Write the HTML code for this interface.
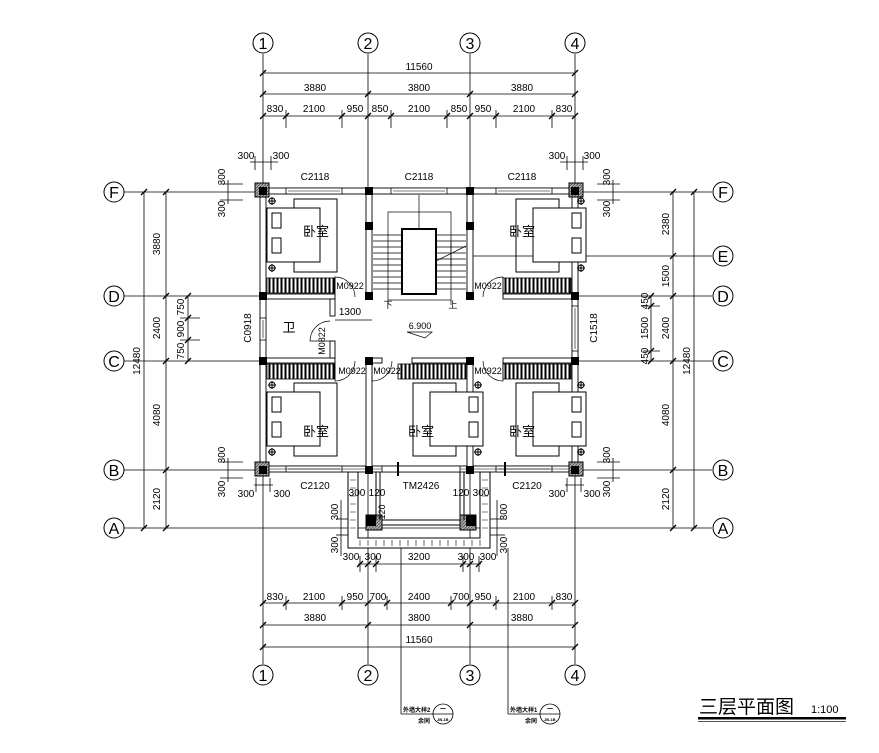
<!DOCTYPE html>
<html><head><meta charset="utf-8"><style>
html,body{margin:0;padding:0;background:#fff}
svg{display:block}
text{font-family:"Liberation Sans","Noto Sans CJK SC",sans-serif;fill:#000}
</style></head><body>
<svg width="879" height="753" viewBox="0 0 879 753" xmlns="http://www.w3.org/2000/svg">
<defs>
<pattern id="hatch" width="4" height="10" patternUnits="userSpaceOnUse"><rect width="4" height="10" fill="#fff"/><rect x="0.5" width="2" height="10" fill="#000"/></pattern>
<pattern id="diag" width="3" height="3" patternUnits="userSpaceOnUse"><rect width="3" height="3" fill="#aaa"/><path d="M0,3L3,0" stroke="#444" stroke-width="0.7"/></pattern>
<g id="tk"><line x1="-3" y1="3" x2="3" y2="-3" stroke="#000" stroke-width="1.3"/></g>
<g id="bed">
<rect x="0" y="0" width="43" height="73" fill="none" stroke="#000"/>
<rect x="-27" y="9" width="53" height="54" fill="#fff" stroke="#000"/>
<rect x="-22" y="14" width="9" height="15" fill="none" stroke="#000"/>
<rect x="-22" y="39" width="9" height="15" fill="none" stroke="#000"/>
<circle cx="-22" cy="2" r="3" fill="none" stroke="#000"/><line x1="-26" y1="2" x2="-18" y2="2" stroke="#000"/><line x1="-22" y1="-2" x2="-22" y2="6" stroke="#000"/>
<circle cx="-22" cy="69" r="3" fill="none" stroke="#000"/><line x1="-26" y1="69" x2="-18" y2="69" stroke="#000"/><line x1="-22" y1="65" x2="-22" y2="73" stroke="#000"/>
</g>
<g id="bedR">
<rect x="0" y="0" width="43" height="73" fill="none" stroke="#000"/>
<rect x="17" y="9" width="53" height="54" fill="#fff" stroke="#000"/>
<rect x="56" y="14" width="9" height="15" fill="none" stroke="#000"/>
<rect x="56" y="39" width="9" height="15" fill="none" stroke="#000"/>
<circle cx="65" cy="2" r="3" fill="none" stroke="#000"/><line x1="61" y1="2" x2="69" y2="2" stroke="#000"/><line x1="65" y1="-2" x2="65" y2="6" stroke="#000"/>
<circle cx="65" cy="69" r="3" fill="none" stroke="#000"/><line x1="61" y1="69" x2="69" y2="69" stroke="#000"/><line x1="65" y1="65" x2="65" y2="73" stroke="#000"/>
</g>
</defs>

<!-- axis lines -->
<g stroke="#000" stroke-width="0.8">
<line x1="263" y1="54" x2="263" y2="664"/><line x1="368" y1="54" x2="368" y2="664"/>
<line x1="470" y1="54" x2="470" y2="664"/><line x1="575" y1="54" x2="575" y2="664"/>
<line x1="124" y1="192" x2="712" y2="192"/><line x1="124" y1="296" x2="712" y2="296"/>
<line x1="124" y1="361" x2="712" y2="361"/><line x1="124" y1="470" x2="712" y2="470"/>
<line x1="124" y1="528" x2="712" y2="528"/><line x1="578" y1="256" x2="712" y2="256"/>
<line x1="401" y1="548" x2="401" y2="714"/><line x1="508" y1="548" x2="508" y2="714"/>
</g>
<!-- axis circles -->
<g fill="#fff" stroke="#000" stroke-width="1">
<circle cx="263" cy="43" r="10"/><circle cx="368" cy="43" r="10"/><circle cx="470" cy="43" r="10"/><circle cx="575" cy="43" r="10"/>
<circle cx="263" cy="675" r="10"/><circle cx="368" cy="675" r="10"/><circle cx="470" cy="675" r="10"/><circle cx="575" cy="675" r="10"/>
<circle cx="114" cy="192" r="10"/><circle cx="114" cy="296" r="10"/><circle cx="114" cy="361" r="10"/><circle cx="114" cy="470" r="10"/><circle cx="114" cy="528" r="10"/>
<circle cx="723" cy="192" r="10"/><circle cx="723" cy="256" r="10"/><circle cx="723" cy="296" r="10"/><circle cx="723" cy="361" r="10"/><circle cx="723" cy="470" r="10"/><circle cx="723" cy="528" r="10"/>
</g>
<g font-size="16" text-anchor="middle" style="font-family:'Liberation Serif',serif">
<text x="263" y="49">1</text><text x="368" y="49">2</text><text x="470" y="49">3</text><text x="575" y="49">4</text>
<text x="263" y="681">1</text><text x="368" y="681">2</text><text x="470" y="681">3</text><text x="575" y="681">4</text>
<text x="114" y="198">F</text><text x="114" y="302">D</text><text x="114" y="367">C</text><text x="114" y="476">B</text><text x="114" y="534">A</text>
<text x="723" y="198">F</text><text x="723" y="262">E</text><text x="723" y="302">D</text><text x="723" y="367">C</text><text x="723" y="476">B</text><text x="723" y="534">A</text>
</g>

<!-- dims lines -->
<g stroke="#000" stroke-width="0.8">
<line x1="263" y1="73" x2="575" y2="73"/><line x1="263" y1="94" x2="575" y2="94"/><line x1="263" y1="116" x2="575" y2="116"/>
<line x1="250" y1="162" x2="278" y2="162"/><line x1="560" y1="162" x2="588" y2="162"/>
<line x1="286" y1="110" x2="286" y2="128"/><line x1="342" y1="110" x2="342" y2="128"/><line x1="391" y1="110" x2="391" y2="128"/><line x1="447" y1="110" x2="447" y2="128"/><line x1="496" y1="110" x2="496" y2="128"/><line x1="552" y1="110" x2="552" y2="128"/>
<line x1="255" y1="156" x2="255" y2="170"/><line x1="271" y1="156" x2="271" y2="170"/><line x1="567" y1="156" x2="567" y2="170"/><line x1="583" y1="156" x2="583" y2="170"/>
<line x1="263" y1="603" x2="575" y2="603"/><line x1="263" y1="625" x2="575" y2="625"/><line x1="263" y1="647" x2="575" y2="647"/>
<line x1="358" y1="564" x2="481" y2="564"/>
<line x1="286" y1="596" x2="286" y2="610"/><line x1="342" y1="596" x2="342" y2="610"/><line x1="387" y1="596" x2="387" y2="610"/><line x1="451" y1="596" x2="451" y2="610"/><line x1="496" y1="596" x2="496" y2="610"/><line x1="552" y1="596" x2="552" y2="610"/>
<line x1="360" y1="556" x2="360" y2="572"/><line x1="376" y1="556" x2="376" y2="572"/><line x1="463" y1="556" x2="463" y2="572"/><line x1="479" y1="556" x2="479" y2="572"/>
<line x1="144" y1="192" x2="144" y2="528"/><line x1="166" y1="192" x2="166" y2="528"/><line x1="188" y1="296" x2="188" y2="361"/>
<line x1="180" y1="318" x2="200" y2="318"/><line x1="180" y1="340" x2="200" y2="340"/>
<line x1="228" y1="180" x2="228" y2="204"/><line x1="220" y1="184" x2="243" y2="184"/><line x1="220" y1="200" x2="243" y2="200"/>
<line x1="228" y1="458" x2="228" y2="482"/><line x1="220" y1="462" x2="243" y2="462"/><line x1="220" y1="478" x2="243" y2="478"/>
<line x1="254" y1="485" x2="273" y2="485"/><line x1="256" y1="478" x2="256" y2="492"/><line x1="270" y1="478" x2="270" y2="492"/>
<line x1="565" y1="485" x2="584" y2="485"/><line x1="567" y1="478" x2="567" y2="492"/><line x1="581" y1="478" x2="581" y2="492"/>
<line x1="673" y1="192" x2="673" y2="528"/><line x1="694" y1="192" x2="694" y2="528"/><line x1="651" y1="296" x2="651" y2="361"/>
<line x1="643" y1="306" x2="660" y2="306"/><line x1="643" y1="351" x2="660" y2="351"/>
<line x1="613" y1="180" x2="613" y2="204"/><line x1="597" y1="184" x2="620" y2="184"/><line x1="597" y1="200" x2="620" y2="200"/>
<line x1="613" y1="458" x2="613" y2="482"/><line x1="597" y1="462" x2="620" y2="462"/><line x1="597" y1="478" x2="620" y2="478"/>
<line x1="341" y1="500" x2="341" y2="556"/><line x1="336" y1="519" x2="350" y2="519"/><line x1="336" y1="535" x2="350" y2="535"/>
<line x1="497" y1="500" x2="497" y2="556"/><line x1="490" y1="519" x2="505" y2="519"/><line x1="490" y1="535" x2="505" y2="535"/>
</g>
<g>
<use href="#tk" x="263" y="73"/><use href="#tk" x="575" y="73"/><use href="#tk" x="263" y="94"/><use href="#tk" x="368" y="94"/><use href="#tk" x="470" y="94"/><use href="#tk" x="575" y="94"/>
<use href="#tk" x="263" y="116"/><use href="#tk" x="286" y="116"/><use href="#tk" x="342" y="116"/><use href="#tk" x="368" y="116"/><use href="#tk" x="391" y="116"/><use href="#tk" x="447" y="116"/><use href="#tk" x="470" y="116"/><use href="#tk" x="496" y="116"/><use href="#tk" x="552" y="116"/><use href="#tk" x="575" y="116"/>
<use href="#tk" x="263" y="603"/><use href="#tk" x="286" y="603"/><use href="#tk" x="342" y="603"/><use href="#tk" x="368" y="603"/><use href="#tk" x="387" y="603"/><use href="#tk" x="451" y="603"/><use href="#tk" x="470" y="603"/><use href="#tk" x="496" y="603"/><use href="#tk" x="552" y="603"/><use href="#tk" x="575" y="603"/>
<use href="#tk" x="263" y="625"/><use href="#tk" x="368" y="625"/><use href="#tk" x="470" y="625"/><use href="#tk" x="575" y="625"/><use href="#tk" x="263" y="647"/><use href="#tk" x="575" y="647"/>
<use href="#tk" x="144" y="192"/><use href="#tk" x="144" y="528"/><use href="#tk" x="166" y="192"/><use href="#tk" x="166" y="296"/><use href="#tk" x="166" y="361"/><use href="#tk" x="166" y="470"/><use href="#tk" x="166" y="528"/>
<use href="#tk" x="694" y="192"/><use href="#tk" x="694" y="528"/><use href="#tk" x="673" y="192"/><use href="#tk" x="673" y="256"/><use href="#tk" x="673" y="296"/><use href="#tk" x="673" y="361"/><use href="#tk" x="673" y="470"/><use href="#tk" x="673" y="528"/>
<use href="#tk" x="188" y="296"/><use href="#tk" x="188" y="318"/><use href="#tk" x="188" y="340"/><use href="#tk" x="188" y="361"/>
<use href="#tk" x="651" y="296"/><use href="#tk" x="651" y="306"/><use href="#tk" x="651" y="351"/><use href="#tk" x="651" y="361"/>
<use href="#tk" x="360" y="564"/><use href="#tk" x="368" y="564"/><use href="#tk" x="376" y="564"/><use href="#tk" x="463" y="564"/><use href="#tk" x="470" y="564"/><use href="#tk" x="479" y="564"/>
</g>

<!-- balcony -->
<path d="M348,472 L348,548 L490,548 L490,472 L480,472 L480,538 L358,538 L358,472 Z" fill="#fff" stroke="#000"/>
<g stroke="#000" stroke-width="0.6" fill="none">
<path d="M350,480 h6 M350,488 h6 M350,496 h6 M350,504 h6 M350,512 h6 M350,520 h6 M350,528 h6 M482,480 h6 M482,488 h6 M482,496 h6 M482,504 h6 M482,512 h6 M482,520 h6 M482,528 h6"/>
<path d="M360,540 v6 M368,540 v6 M376,540 v6 M384,540 v6 M392,540 v6 M400,540 v6 M408,540 v6 M416,540 v6 M424,540 v6 M432,540 v6 M440,540 v6 M448,540 v6 M456,540 v6 M464,540 v6 M472,540 v6 M480,540 v6"/>
</g>
<rect x="366" y="515" width="16" height="15" fill="url(#diag)" stroke="#000"/><rect x="366" y="515" width="10" height="11" fill="#000"/>
<rect x="460" y="515" width="16" height="15" fill="url(#diag)" stroke="#000"/><rect x="466" y="515" width="10" height="11" fill="#000"/>
<line x1="376" y1="472" x2="376" y2="520" stroke="#000"/><line x1="380" y1="472" x2="380" y2="520" stroke="#000"/>
<line x1="460" y1="472" x2="460" y2="520" stroke="#000"/><line x1="464" y1="472" x2="464" y2="520" stroke="#000"/>
<line x1="382" y1="520" x2="460" y2="520" stroke="#000"/><line x1="382" y1="525" x2="460" y2="525" stroke="#000"/>

<!-- walls -->
<g fill="#fff" stroke="#000" stroke-width="0.9">
<rect x="260" y="188" width="318" height="284"/>
<rect x="266" y="194" width="306" height="272"/>
</g>
<rect x="267" y="195" width="304" height="270" fill="#fff"/>
<g fill="#fff" stroke="#000" stroke-width="0.9">
<rect x="366" y="191" width="6" height="106"/><rect x="467" y="191" width="6" height="106"/>
<rect x="366" y="358" width="6" height="112"/><rect x="467" y="358" width="6" height="112"/>
<rect x="263" y="294" width="72" height="5"/><rect x="503" y="294" width="72" height="5"/>
<rect x="263" y="358" width="72" height="5"/><rect x="372" y="358" width="10" height="5"/><rect x="412" y="358" width="55" height="5"/><rect x="503" y="358" width="72" height="5"/>
<rect x="330" y="299" width="5" height="17"/><rect x="330" y="341" width="5" height="17"/>
</g>
<!-- windows -->
<g fill="#fff" stroke="#000" stroke-width="0.8">
<rect x="286" y="188" width="56" height="6"/><rect x="391" y="188" width="56" height="6"/><rect x="496" y="188" width="56" height="6"/>
<rect x="286" y="466" width="56" height="6"/><rect x="496" y="466" width="56" height="6"/>
<rect x="260" y="318" width="6" height="22"/><rect x="572" y="306" width="6" height="45"/>
</g>
<g stroke="#000" stroke-width="0.6">
<line x1="288" y1="191" x2="340" y2="191"/><line x1="393" y1="191" x2="445" y2="191"/><line x1="498" y1="191" x2="550" y2="191"/>
<line x1="288" y1="469" x2="340" y2="469"/><line x1="498" y1="469" x2="550" y2="469"/>
<line x1="263" y1="320" x2="263" y2="338"/><line x1="575" y1="308" x2="575" y2="349"/>
<line x1="260" y1="469" x2="578" y2="469"/>
</g>
<rect x="382" y="466" width="78" height="6" fill="#fff" stroke="#000" stroke-width="0.8"/>
<line x1="398" y1="462" x2="398" y2="476" stroke="#000" stroke-width="2"/><line x1="505" y1="462" x2="505" y2="476" stroke="#000" stroke-width="2"/>
<!-- columns -->
<g fill="#000">
<rect x="365" y="187" width="8" height="8"/><rect x="466" y="187" width="8" height="8"/>
<rect x="259" y="292" width="8" height="8"/><rect x="365" y="292" width="8" height="8"/><rect x="466" y="292" width="8" height="8"/><rect x="571" y="292" width="8" height="8"/>
<rect x="259" y="357" width="8" height="8"/><rect x="365" y="357" width="8" height="8"/><rect x="466" y="357" width="8" height="8"/><rect x="571" y="357" width="8" height="8"/>
<rect x="365" y="466" width="8" height="8"/><rect x="466" y="466" width="8" height="8"/>
<rect x="365" y="222" width="8" height="8"/><rect x="466" y="222" width="8" height="8"/>
</g>
<g>
<rect x="255" y="183" width="14" height="14" fill="url(#diag)" stroke="#000"/><rect x="259" y="187" width="8" height="8" fill="#000"/>
<rect x="569" y="183" width="14" height="14" fill="url(#diag)" stroke="#000"/><rect x="571" y="187" width="8" height="8" fill="#000"/>
<rect x="255" y="462" width="14" height="14" fill="url(#diag)" stroke="#000"/><rect x="259" y="466" width="8" height="8" fill="#000"/>
<rect x="569" y="462" width="14" height="14" fill="url(#diag)" stroke="#000"/><rect x="571" y="466" width="8" height="8" fill="#000"/>
</g>

<!-- stair -->
<g stroke="#000" stroke-width="0.7" fill="none">
<rect x="388" y="212" width="63" height="88"/>
<line x1="419" y1="195" x2="419" y2="229"/>
<path d="M373,235h29 M373,241h29 M373,247h29 M373,253h29 M373,259h29 M373,265h29 M373,271h29 M373,277h29 M373,283h29 M373,289h29"/>
<path d="M436,235h30 M436,241h30 M436,247h30 M436,253h30 M436,259h30 M436,265h30 M436,271h30 M436,277h30 M436,283h30 M436,289h30"/>
<line x1="434" y1="262" x2="466" y2="246"/><line x1="451" y1="242" x2="451" y2="266"/>
<line x1="473" y1="256" x2="575" y2="256"/>
<line x1="388" y1="300" x2="388" y2="305"/><line x1="451" y1="300" x2="451" y2="305"/>
<path d="M407,332 h25 l-7,6z" />
</g>
<rect x="402" y="229" width="34" height="65" fill="#fff" stroke="#000" stroke-width="2"/>
<line x1="335" y1="320" x2="372" y2="320" stroke="#000" stroke-width="0.7"/>

<!-- wardrobes -->
<g stroke="#000" stroke-width="0.8">
<rect x="267" y="278" width="68" height="15" fill="url(#hatch)"/>
<rect x="503" y="278" width="68" height="15" fill="url(#hatch)"/>
<rect x="267" y="364" width="68" height="15" fill="url(#hatch)"/>
<rect x="398" y="364" width="68" height="15" fill="url(#hatch)"/>
<rect x="503" y="364" width="68" height="15" fill="url(#hatch)"/>
</g>
<!-- doors -->
<g stroke="#000" stroke-width="0.7" fill="none">
<path d="M335,297 v-20 a20,20 0 0 1 20,20"/><path d="M503,297 v-20 a20,20 0 0 0 -20,20"/>
<path d="M335,361 v20 a20,20 0 0 0 20,-20"/><path d="M372,361 v20 a20,20 0 0 0 20,-20"/>
<path d="M503,361 v20 a20,20 0 0 1 -20,-20"/>
<path d="M330,341 h-20 a20,20 0 0 1 20,-20"/>
</g>
<!-- beds -->
<use href="#bed" x="294" y="199"/><use href="#bedR" x="516" y="199"/>
<use href="#bed" x="294" y="383"/><use href="#bedR" x="413" y="383"/><use href="#bedR" x="516" y="383"/>

<!-- texts -->
<g font-size="10" text-anchor="middle">
<text x="419" y="70">11560</text>
<text x="315" y="91">3880</text><text x="419" y="91">3800</text><text x="522" y="91">3880</text>
<text x="275" y="112">830</text><text x="314" y="112">2100</text><text x="355" y="112">950</text><text x="380" y="112">850</text><text x="419" y="112">2100</text><text x="459" y="112">850</text><text x="483" y="112">950</text><text x="524" y="112">2100</text><text x="564" y="112">830</text>
<text x="246" y="159">300</text><text x="281" y="159">300</text><text x="557" y="159">300</text><text x="592" y="159">300</text>
<text x="315" y="180">C2118</text><text x="419" y="180">C2118</text><text x="522" y="180">C2118</text>
<text x="275" y="600">830</text><text x="314" y="600">2100</text><text x="355" y="600">950</text><text x="378" y="600">700</text><text x="419" y="600">2400</text><text x="461" y="600">700</text><text x="483" y="600">950</text><text x="524" y="600">2100</text><text x="564" y="600">830</text>
<text x="315" y="621">3880</text><text x="419" y="621">3800</text><text x="522" y="621">3880</text>
<text x="419" y="643">11560</text>
<text x="351" y="560">300</text><text x="373" y="560">300</text><text x="419" y="560">3200</text><text x="466" y="560">300</text><text x="488" y="560">300</text>
<text x="246" y="497">300</text><text x="282" y="497">300</text><text x="557" y="497">300</text><text x="592" y="497">300</text>
<text x="315" y="489">C2120</text><text x="421" y="489">TM2426</text><text x="527" y="489">C2120</text>
<text x="357" y="496">300</text><text x="377" y="496">120</text><text x="461" y="496">120</text><text x="481" y="496">300</text>
<text x="350" y="315">1300</text>
<text x="420" y="329" font-size="9">6.900</text>
<text x="388" y="308" font-size="9">下</text><text x="453" y="308" font-size="9">上</text>
</g>
<g font-size="10" text-anchor="middle">
<text transform="translate(160,244) rotate(-90)">3880</text><text transform="translate(160,328) rotate(-90)">2400</text><text transform="translate(160,415) rotate(-90)">4080</text><text transform="translate(160,499) rotate(-90)">2120</text>
<text transform="translate(140,361) rotate(-90)">12480</text>
<text transform="translate(184,307) rotate(-90)">750</text><text transform="translate(184,329) rotate(-90)">900</text><text transform="translate(184,351) rotate(-90)">750</text>
<text transform="translate(225,177) rotate(-90)">300</text><text transform="translate(225,209) rotate(-90)">300</text><text transform="translate(225,455) rotate(-90)">300</text><text transform="translate(225,489) rotate(-90)">300</text>
<text transform="translate(251,328) rotate(-90)">C0918</text>
<text transform="translate(669,224) rotate(-90)">2380</text><text transform="translate(669,276) rotate(-90)">1500</text><text transform="translate(669,328) rotate(-90)">2400</text><text transform="translate(669,415) rotate(-90)">4080</text><text transform="translate(669,499) rotate(-90)">2120</text>
<text transform="translate(690,361) rotate(-90)">12480</text>
<text transform="translate(648,301) rotate(-90)">450</text><text transform="translate(648,328) rotate(-90)">1500</text><text transform="translate(648,356) rotate(-90)">450</text>
<text transform="translate(610,177) rotate(-90)">300</text><text transform="translate(610,209) rotate(-90)">300</text><text transform="translate(610,455) rotate(-90)">300</text><text transform="translate(610,489) rotate(-90)">300</text>
<text transform="translate(597,328) rotate(-90)">C1518</text>
<text transform="translate(338,512) rotate(-90)">300</text><text transform="translate(338,545) rotate(-90)">300</text>
<text transform="translate(507,512) rotate(-90)">300</text><text transform="translate(507,545) rotate(-90)">300</text>
<text transform="translate(385,512) rotate(-90)" font-size="9">120</text>
<text transform="translate(325,341) rotate(-90)" font-size="9">M0822</text>
</g>
<g font-size="9" text-anchor="middle">
<text x="350" y="289">M0922</text><text x="488" y="289">M0922</text>
<text x="352" y="374">M0922</text><text x="387" y="374">M0922</text><text x="488" y="374">M0922</text>
</g>
<g font-size="13" text-anchor="middle" fill="#000">
<text x="316" y="236">卧室</text><text x="522" y="236">卧室</text>
<text x="316" y="436">卧室</text><text x="421" y="436">卧室</text><text x="522" y="436">卧室</text>
<text x="289" y="332">卫</text>
</g>

<!-- callouts -->
<g stroke="#000" stroke-width="0.8" fill="#fff">
<line x1="401" y1="714" x2="434" y2="714"/><circle cx="443" cy="714" r="10"/><line x1="433" y1="714" x2="453" y2="714"/>
<line x1="508" y1="714" x2="541" y2="714"/><circle cx="550" cy="714" r="10"/><line x1="540" y1="714" x2="560" y2="714"/>
</g>
<g font-size="6" font-weight="bold">
<text x="403" y="712">外墙大样2</text><text x="418" y="723">余同</text><text x="440" y="711">一</text><text x="437" y="721" font-size="4">JB-1B</text>
<text x="510" y="712">外墙大样1</text><text x="525" y="723">余同</text><text x="547" y="711">一</text><text x="544" y="721" font-size="4">JB-1B</text>
</g>
<!-- title -->
<text x="699" y="713" font-size="19" style="font-family:'Noto Sans CJK SC',sans-serif">三层平面图</text>
<text x="811" y="713" font-size="11">1:100</text>
<rect x="698" y="717" width="148" height="2.5" fill="#000"/>
<rect x="698" y="721" width="148" height="1" fill="#555"/>
</svg>
</body></html>
